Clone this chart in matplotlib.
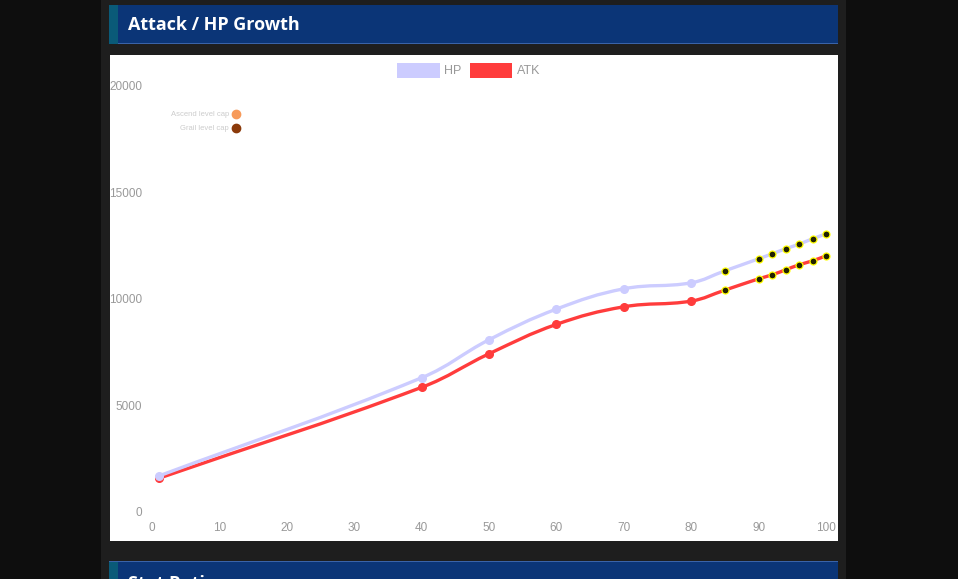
import numpy as np
import matplotlib.pyplot as plt
from matplotlib.path import Path
from matplotlib.patches import PathPatch, Rectangle

# levels and stats
levels = [1, 40, 50, 60, 70, 80, 85, 90, 92, 94, 96, 98, 100]
hp = [1667, 6282, 8066, 9507, 10460, 10742, 11305, 11869, 12103, 12338, 12559, 12808, 13042]
atk = [1559, 5831, 7408, 8789, 9615, 9883, 10399, 10930, 11117, 11352, 11587, 11775, 12009]
n_ascend = 6          # first points are normal ascension caps, the rest grail caps

x_ticks = list(range(0, 101, 10))
y_ticks = [0, 5000, 10000, 15000, 20000]

HP_COL = '#ccccff'
ATK_COL = '#ff3c3c'
TICK_COL = '#999999'

W, H = 958, 579


def spline_path(x, y, t=0.4, sx=6.725, sy=0.0213):
    # chart.js-like bezier through the points (done in pixel scale)
    px = np.asarray(x, float) * sx
    py = np.asarray(y, float) * sy
    n = len(px)
    cp_prev, cp_next = [], []
    for i in range(n):
        a = max(i - 1, 0)
        b = min(i + 1, n - 1)
        d01 = np.hypot(px[i] - px[a], py[i] - py[a])
        d12 = np.hypot(px[b] - px[i], py[b] - py[i])
        tot = d01 + d12
        fa = t * d01 / tot if tot else 0
        fb = t * d12 / tot if tot else 0
        dx, dy = px[b] - px[a], py[b] - py[a]
        cp_prev.append((px[i] - fa * dx, py[i] - fa * dy))
        cp_next.append((px[i] + fb * dx, py[i] + fb * dy))
    verts = [(px[0], py[0])]
    codes = [Path.MOVETO]
    for i in range(n - 1):
        verts += [cp_next[i], cp_prev[i + 1], (px[i + 1], py[i + 1])]
        codes += [Path.CURVE4] * 3
    verts = [(vx / sx, vy / sy) for vx, vy in verts]
    return Path(verts, codes)


fig = plt.figure(figsize=(W / 100, H / 100), dpi=100)
fig.patch.set_facecolor('#0e0e0e')
plt.rcParams['font.family'] = ['Liberation Sans', 'DejaVu Sans']


def px_rect(x0, y0, x1, y1, color, z=0):
    fig.patches.append(Rectangle((x0 / W, 1 - y1 / H), (x1 - x0) / W, (y1 - y0) / H,
                                 transform=fig.transFigure, facecolor=color,
                                 edgecolor='none', zorder=z))


# page panels
px_rect(101, 0, 846, H, '#1e1e1e')
px_rect(109, 5, 838, 44, '#0b3577')
px_rect(109, 43, 838, 44, '#3a63a8')
px_rect(109, 5, 118, 44, '#0a5a78')
px_rect(109, 562, 838, H, '#0b3577')
px_rect(109, 561, 838, 562, '#3a63a8')
px_rect(109, 562, 118, H, '#0a5a78')
px_rect(110, 55, 838, 541, 'white')

fig.text(128 / W, 1 - 25 / H, 'Attack / HP Growth', color='white', fontsize=13,
         fontweight='bold', family=['Open Sans', 'DejaVu Sans'], va='center', ha='left')
# next section's header, cut off by the bottom edge as in the page screenshot
fig.text(128 / W, 1 - 584 / H, 'Stat Ratings', color='white', fontsize=13,
         fontweight='bold', family=['Open Sans', 'DejaVu Sans'], va='center', ha='left')

ax = fig.add_axes([152 / W, 1 - 511.5 / H, 674 / W, 425.8 / H])
ax.set_zorder(5)
ax.set_facecolor('none')
ax.set_xlim(0, 100)
ax.set_ylim(0, 20000)
for s in ax.spines.values():
    s.set_visible(False)
ax.set_xticks(x_ticks)
ax.set_yticks(y_ticks)
ax.tick_params(length=0, colors=TICK_COL, labelsize=8.5)
ax.tick_params(axis='x', pad=7.5)
ax.tick_params(axis='y', pad=7.2)

for vals, col, z in [(atk, ATK_COL, 3), (hp, HP_COL, 4)]:
    ax.add_patch(PathPatch(spline_path(levels, vals), facecolor='none', edgecolor=col,
                           lw=2.4, zorder=z, capstyle='round'))
    ax.plot(levels[:n_ascend], vals[:n_ascend], 'o', color=col, ms=5.5, zorder=z + 0.1,
            clip_on=False)
    ax.plot(levels[n_ascend:], vals[n_ascend:], 'o', mfc='#222200', mec='#ffff00',
            mew=0.9, ms=5, zorder=z + 0.2, clip_on=False)

# legend
px_rect(397, 63, 440, 78, HP_COL, z=2)
fig.text(444 / W, 1 - 70.5 / H, 'HP', color=TICK_COL, fontsize=9, va='center')
px_rect(470, 63, 512, 78, ATK_COL, z=2)
fig.text(517 / W, 1 - 70.5 / H, 'ATK', color=TICK_COL, fontsize=9, va='center')

# level cap markers key
for yy, lab, c in [(114, 'Ascend level cap', '#f79a5a'), (128, 'Grail level cap', '#8b3a0a')]:
    fig.text(229 / W, 1 - yy / H, lab, color='#cccccc', fontsize=5.5, ha='right', va='center')
    fig.lines.append(plt.Line2D([236 / W], [1 - yy / H], transform=fig.transFigure,
                                marker='o', ms=6, color=c, lw=0))

fig.savefig('out.png', dpi=100, facecolor=fig.get_facecolor())
